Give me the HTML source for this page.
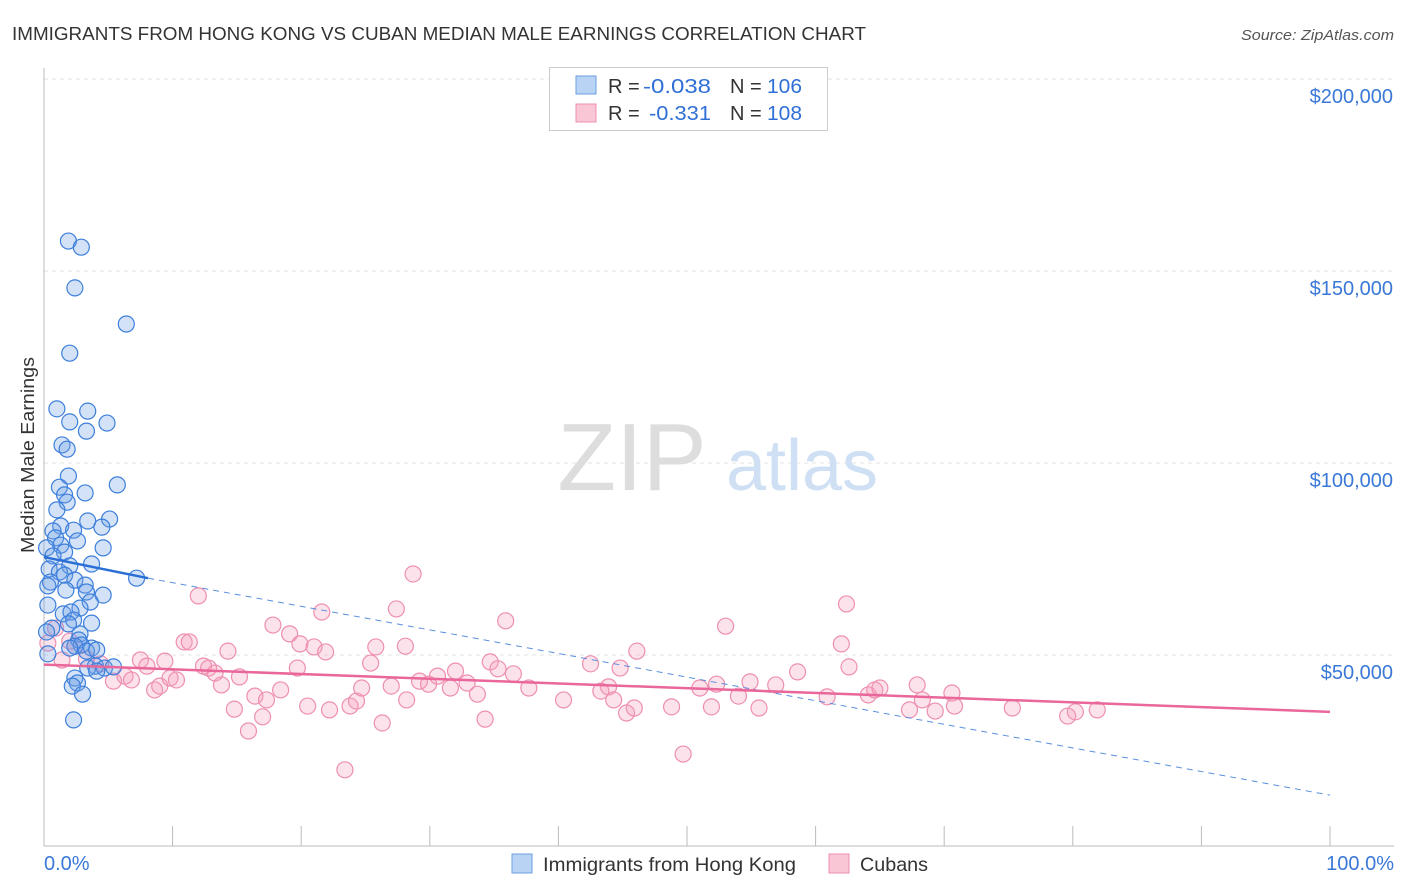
<!DOCTYPE html>
<html><head><meta charset="utf-8">
<style>
body{margin:0;background:#fff;font-family:"Liberation Sans",sans-serif;}
#wrap{position:relative;width:1406px;height:892px;overflow:hidden;}
svg text{font-family:"Liberation Sans",sans-serif;}
</style></head>
<body>
<div id="wrap">
<svg id="chart" width="1406" height="892">
  <text x="12" y="40" font-size="18" fill="#333" textLength="854" lengthAdjust="spacingAndGlyphs">IMMIGRANTS FROM HONG KONG VS CUBAN MEDIAN MALE EARNINGS CORRELATION CHART</text>
  <text x="1241" y="40" font-size="15" fill="#555" font-style="italic" textLength="153" lengthAdjust="spacingAndGlyphs">Source: ZipAtlas.com</text>
  <text x="34" y="455" font-size="18" fill="#333" text-anchor="middle" transform="rotate(-90 34 455)" textLength="196" lengthAdjust="spacingAndGlyphs">Median Male Earnings</text>
  <g id="grid"></g>
  <g id="axes"></g>
  <g>
    <text x="632" y="490" font-size="96" fill="#ddd" font-family="Liberation Serif,serif" text-anchor="middle">ZIP</text>
    <text x="802" y="490" font-size="72" fill="#cfe0f4" text-anchor="middle">atlas</text>
  </g>
  <g id="pink"></g>
  <g id="blue"></g>
  <g id="trends"></g>
  <g>
    <rect x="549.5" y="67.5" width="278" height="63" fill="#fff" stroke="#ccc"/>
    <rect x="576" y="76" width="20" height="18" fill="#b9d3f5" stroke="#6a9fe0"/>
    <rect x="576" y="104" width="20" height="18" fill="#f9c6d6" stroke="#ee8fb0"/>
    <text y="93" font-size="20" fill="#333"><tspan x="608">R = </tspan><tspan x="643" fill="#2f6fd6" textLength="68" lengthAdjust="spacingAndGlyphs">-0.038</tspan><tspan x="730">N = </tspan><tspan x="767" fill="#2f6fd6" textLength="35" lengthAdjust="spacingAndGlyphs">106</tspan></text>
    <text y="120" font-size="20" fill="#333"><tspan x="608">R = </tspan><tspan x="649" fill="#2f6fd6" textLength="62" lengthAdjust="spacingAndGlyphs">-0.331</tspan><tspan x="730">N = </tspan><tspan x="767" fill="#2f6fd6" textLength="35" lengthAdjust="spacingAndGlyphs">108</tspan></text>
  </g>
  <g>
    <rect x="512" y="854" width="20" height="19" fill="#b9d3f5" stroke="#6a9fe0"/>
    <text x="543" y="871" font-size="19.5" fill="#333" textLength="253" lengthAdjust="spacingAndGlyphs">Immigrants from Hong Kong</text>
    <rect x="829" y="854" width="20" height="19" fill="#f9c6d6" stroke="#ee8fb0"/>
    <text x="860" y="871" font-size="19.5" fill="#333" textLength="68" lengthAdjust="spacingAndGlyphs">Cubans</text>
  </g>
</svg>
</div>
<script>
const yTicks=[50000,100000,150000,200000];
const yTickLabels=["$50,000","$100,000","$150,000","$200,000"];
const xTickLabels=["0.0%","100.0%"];
const blueX=[1.9,2.9,2.4,6.4,2.0,1.0,3.4,2.0,4.9,3.3,1.4,1.8,1.9,5.7,1.2,3.2,1.6,1.8,1.0,5.1,3.4,1.3,2.3,4.5,0.7,0.9,2.6,1.3,0.2,4.6,1.6,0.7,3.7,2.0,0.4,1.2,1.6,7.2,0.5,2.4,0.3,3.2,1.7,4.6,3.3,3.6,0.3,2.8,1.5,2.1,2.3,3.7,1.9,0.6,0.2,2.8,2.7,2.9,3.7,2.4,2.0,3.3,4.1,0.3,4.0,4.7,5.4,3.4,4.1,2.4,2.6,2.2,3.0,2.3];
const blueY=[157.8,156.2,145.6,136.2,128.6,114.1,113.5,110.7,110.4,108.3,104.7,103.6,96.6,94.3,93.7,92.2,91.7,89.8,87.8,85.4,84.9,83.6,82.5,83.3,82.3,80.5,79.7,78.6,77.9,77.9,76.8,75.8,73.7,73.2,72.4,71.6,70.8,70.0,69.0,69.5,68.0,68.2,66.9,65.6,66.4,63.8,63.0,62.2,60.7,61.2,59.1,58.3,58.1,57.0,56.0,55.5,53.9,52.6,51.8,52.3,51.8,51.0,51.3,50.3,47.1,46.6,46.9,46.6,45.8,44.0,42.7,41.9,39.8,33.1];
const pinkX=[0.9,0.3,2.0,1.4,2.4,3.3,4.4,5.4,6.3,6.8,7.5,8.0,8.6,9.0,9.4,9.8,10.3,10.9,11.3,12.0,12.4,12.8,13.3,13.8,14.3,14.8,15.2,15.9,16.4,17.0,17.3,17.8,18.4,19.1,19.7,19.9,20.5,21.0,21.6,21.9,22.2,23.4,23.8,24.3,24.7,25.4,25.8,26.3,27.0,27.4,28.1,28.2,28.7,29.2,29.9,30.6,31.6,32.0,32.9,33.7,34.3,34.7,35.3,35.9,36.5,37.7,40.4,42.5,43.3,43.9,44.3,44.8,45.3,45.9,46.1,48.8,49.7,51.0,51.9,52.3,53.0,54.0,54.9,55.6,56.9,58.6,60.9,62.0,62.4,62.6,64.1,64.6,65.0,67.3,67.9,68.3,69.3,70.6,70.8,75.3,79.6,80.2,81.9];
const pinkY=[57.0,53.1,53.6,48.7,52.3,49.0,47.7,43.2,44.5,43.5,48.7,47.1,40.9,41.9,48.4,44.0,43.5,53.4,53.4,65.4,47.1,46.6,45.3,42.2,51.0,35.9,44.3,30.2,39.3,33.9,38.3,57.8,40.9,55.5,46.6,52.9,36.7,52.1,61.2,50.8,35.7,20.1,36.7,38.0,41.4,47.9,52.1,32.3,41.9,62.0,52.3,38.3,71.1,43.2,42.4,44.5,41.4,45.8,42.7,39.8,33.3,48.2,46.4,58.9,45.1,41.4,38.3,47.7,40.6,41.7,38.3,46.6,34.9,36.2,51.0,36.5,24.2,41.4,36.5,42.4,57.5,39.3,43.0,36.2,42.2,45.6,39.1,52.9,63.3,46.9,39.6,40.9,41.4,35.7,42.2,38.3,35.4,40.1,36.7,36.2,34.1,35.2,35.7];
const blueTrend=[[0,75.5],[8.1,70.0],[100,13.5]];
const pinkTrend=[[0,47.5],[100,35.2]];

const X=p=>44+p*12.86;
const Y=k=>847-k*3.84;
const NS="http://www.w3.org/2000/svg";
function mk(tag,attrs,parent){const e=document.createElementNS(NS,tag);for(const a in attrs)e.setAttribute(a,attrs[a]);parent.appendChild(e);return e;}
const grid=document.getElementById('grid'),axes=document.getElementById('axes');
yTicks.forEach((v,i)=>{
  const l=mk('line',{x1:44,x2:1394,y1:Y(v/1000),y2:Y(v/1000),stroke:'#e3e3e3','stroke-dasharray':'4,4'},grid);
  
  
  const t=mk('text',{x:1393,y:Y(v/1000)+24,'font-size':20,fill:'#3a78d8','text-anchor':'end'},axes);
  t.textContent=yTickLabels[i];
  
  
});
mk('line',{x1:44,x2:44,y1:68,y2:846,stroke:'#bbb'},axes);
mk('line',{x1:44,x2:1394,y1:846,y2:846,stroke:'#bbb'},axes);
for(let i=0;i<=10;i++){mk('line',{x1:X(i*10),x2:X(i*10),y1:826,y2:846,stroke:'#bbb'},axes);}
[[0,'start',44],[1,'end',1394]].forEach(([i,a,x])=>{
  const t=mk('text',{x:x,y:870,'font-size':20,fill:'#3a78d8','text-anchor':a},axes);
  t.textContent=xTickLabels[i];
  
  
});
function pts(g,xs,ys,fill,stroke){
  xs.forEach((x,i)=>{
    const c=mk('circle',{cx:X(x),cy:Y(ys[i]),r:8,fill:fill,stroke:stroke,'stroke-width':1.2},g);
    
    
  });
}
pts(document.getElementById('pink'),pinkX,pinkY,'rgba(244,160,190,0.3)','#ee8fb0');
pts(document.getElementById('blue'),blueX,blueY,'rgba(110,160,230,0.3)','#3d7fdc');
const tr=document.getElementById('trends');
const b1=mk('line',{x1:X(blueTrend[0][0]),y1:Y(blueTrend[0][1]),x2:X(blueTrend[1][0]),y2:Y(blueTrend[1][1]),stroke:'#2a6fd6','stroke-width':2.5},tr);


const b2=mk('line',{x1:X(blueTrend[1][0]),y1:Y(blueTrend[1][1]),x2:X(blueTrend[2][0]),y2:Y(blueTrend[2][1]),stroke:'#5a8fe0','stroke-width':1,'stroke-dasharray':'6,5'},tr);


const p1=mk('line',{x1:X(pinkTrend[0][0]),y1:Y(pinkTrend[0][1]),x2:X(pinkTrend[1][0]),y2:Y(pinkTrend[1][1]),stroke:'#e9679a','stroke-width':2.5},tr);


</script>
</body></html>
